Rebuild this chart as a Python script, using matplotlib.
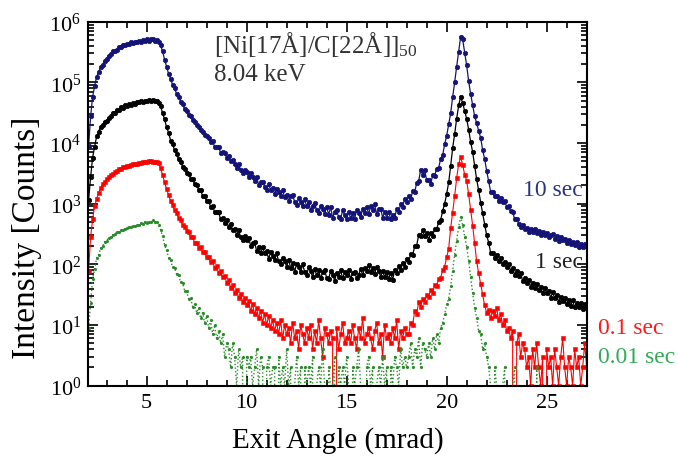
import numpy as np
import matplotlib
matplotlib.use("Agg")
import matplotlib.pyplot as plt
from matplotlib.ticker import MultipleLocator, LogLocator, NullFormatter

plt.rcParams['font.family'] = ['Liberation Serif', 'DejaVu Serif']
plt.rcParams['mathtext.fontset'] = 'custom'
plt.rcParams['mathtext.rm'] = 'Liberation Serif'
plt.rcParams['mathtext.it'] = 'Liberation Serif:italic'

# exit angle grid (mrad), 2.1 ... 27.0 in 0.1 steps
angle = np.round(np.linspace(2.1, 27.0, 250), 1)

# 10 sec, read as log10(counts)
blue_log10 = [
    3.95, 4.44, 4.76, 4.94, 5.09, 5.17, 5.25, 5.29, 5.36, 5.39,
    5.44, 5.46, 5.51, 5.52, 5.54, 5.58, 5.58, 5.61, 5.61, 5.64,
    5.63, 5.66, 5.65, 5.67, 5.66, 5.69, 5.67, 5.70, 5.68, 5.71,
    5.69, 5.71, 5.71, 5.69, 5.70, 5.67, 5.61, 5.51, 5.37, 5.26,
    5.14, 5.06, 4.96, 4.90, 4.81, 4.76, 4.68, 4.64, 4.56, 4.53,
    4.47, 4.44, 4.38, 4.35, 4.29, 4.27, 4.21, 4.19, 4.13, 4.11,
    4.09, 4.02, 4.03, 3.94, 3.93, 3.93, 3.84, 3.85, 3.83, 3.76,
    3.78, 3.70, 3.72, 3.65, 3.59, 3.65, 3.56, 3.51, 3.55, 3.52,
    3.44, 3.50, 3.44, 3.37, 3.44, 3.31, 3.36, 3.36, 3.28, 3.23,
    3.32, 3.23, 3.26, 3.16, 3.25, 3.19, 3.13, 3.22, 3.11, 3.14,
    3.05, 3.13, 3.15, 3.03, 2.98, 3.09, 3.03, 2.96, 3.07, 2.96,
    3.03, 2.89, 2.97, 3.02, 2.89, 2.84, 2.96, 2.91, 2.83, 2.95,
    2.82, 2.94, 2.77, 2.87, 2.89, 2.78, 2.75, 2.89, 2.81, 2.74,
    2.87, 2.76, 2.84, 2.75, 2.90, 2.84, 2.78, 2.91, 2.84, 2.95,
    2.83, 2.96, 2.89, 2.99, 2.83, 2.91, 2.92, 2.77, 2.87, 2.77,
    2.87, 2.75, 2.82, 2.76, 2.92, 2.86, 2.99, 2.95, 3.08, 3.03,
    3.13, 3.07, 3.21, 3.19, 3.34, 3.37, 3.56, 3.48, 3.55, 3.39,
    3.39, 3.32, 3.47, 3.46, 3.58, 3.59, 3.74, 3.80, 3.98, 4.12,
    4.31, 4.49, 4.76, 5.00, 5.26, 5.50, 5.75, 5.71, 5.49, 5.28,
    5.02, 4.81, 4.63, 4.44, 4.33, 4.20, 4.09, 3.88, 3.74, 3.54,
    3.37, 3.20, 3.20, 3.12, 3.12, 3.05, 3.10, 3.03, 3.04, 2.95,
    2.96, 2.88, 2.86, 2.75, 2.75, 2.67, 2.62, 2.65, 2.58, 2.60,
    2.54, 2.59, 2.54, 2.58, 2.51, 2.55, 2.48, 2.54, 2.48, 2.52,
    2.45, 2.49, 2.50, 2.42, 2.46, 2.39, 2.45, 2.40, 2.42, 2.35,
    2.40, 2.33, 2.37, 2.32, 2.37, 2.29, 2.33, 2.29, 2.33, 2.28,
]

# 1 sec, read as log10(counts)
black_log10 = [
    3.06, 3.44, 3.76, 3.94, 4.11, 4.19, 4.27, 4.30, 4.35, 4.37,
    4.42, 4.44, 4.49, 4.50, 4.54, 4.55, 4.59, 4.58, 4.62, 4.61,
    4.64, 4.63, 4.66, 4.65, 4.68, 4.67, 4.69, 4.68, 4.70, 4.69,
    4.71, 4.70, 4.71, 4.69, 4.69, 4.66, 4.61, 4.49, 4.39, 4.26,
    4.17, 4.04, 3.98, 3.88, 3.82, 3.73, 3.69, 3.61, 3.58, 3.51,
    3.49, 3.41, 3.40, 3.32, 3.31, 3.23, 3.22, 3.13, 3.12, 3.04,
    3.04, 2.95, 2.97, 2.86, 2.87, 2.86, 2.74, 2.77, 2.69, 2.73,
    2.61, 2.67, 2.57, 2.59, 2.48, 2.56, 2.45, 2.40, 2.47, 2.41,
    2.44, 2.31, 2.36, 2.37, 2.22, 2.28, 2.19, 2.28, 2.18, 2.22,
    2.09, 2.20, 2.14, 2.07, 2.18, 2.05, 2.00, 2.11, 2.06, 1.96,
    2.08, 1.94, 2.02, 1.88, 2.01, 1.96, 1.87, 2.00, 1.88, 1.83,
    1.95, 1.89, 1.79, 1.93, 1.82, 1.90, 1.77, 1.87, 1.91, 1.78,
    1.76, 1.89, 1.83, 1.73, 1.86, 1.79, 1.90, 1.77, 1.87, 1.82,
    1.90, 1.76, 1.86, 1.88, 1.77, 1.82, 1.93, 1.82, 1.94, 1.89,
    1.99, 1.87, 1.94, 1.84, 1.96, 1.89, 1.80, 1.89, 1.79, 1.88,
    1.76, 1.86, 1.75, 1.90, 1.85, 1.97, 1.90, 2.03, 1.96, 2.09,
    2.04, 2.17, 2.15, 2.30, 2.31, 2.48, 2.47, 2.56, 2.46, 2.51,
    2.41, 2.51, 2.47, 2.59, 2.58, 2.70, 2.73, 2.88, 3.00, 3.16,
    3.35, 3.62, 3.92, 4.15, 4.40, 4.62, 4.76, 4.66, 4.53, 4.40,
    4.22, 4.02, 3.85, 3.62, 3.40, 3.22, 3.02, 2.84, 2.65, 2.48,
    2.36, 2.19, 2.19, 2.11, 2.16, 2.06, 2.11, 2.00, 2.04, 1.96,
    2.01, 1.89, 1.94, 1.83, 1.89, 1.81, 1.85, 1.73, 1.78, 1.69,
    1.75, 1.63, 1.70, 1.61, 1.68, 1.57, 1.62, 1.52, 1.61, 1.52,
    1.56, 1.45, 1.54, 1.44, 1.50, 1.38, 1.46, 1.39, 1.45, 1.34,
    1.42, 1.32, 1.41, 1.29, 1.37, 1.30, 1.37, 1.27, 1.35, 1.28,
]

# 0.1 sec, counts
red_counts = [
    78, 285, 552, 903, 1190, 1524, 1806, 2110, 2322, 2590,
    2731, 2968, 3142, 3335, 3452, 3741, 3779, 4012, 4046, 4190,
    4251, 4398, 4449, 4597, 4553, 4702, 4768, 4815, 4881, 4930,
    4985, 5010, 4912, 4940, 4870, 4660, 3820, 2930, 2260, 1725,
    1395, 1108, 942, 781, 698, 592, 532, 449, 414, 356,
    342, 281, 279, 228, 229, 189, 190, 157, 160, 130,
    134, 108, 112, 88, 93, 72, 77, 61, 64, 50,
    55, 41, 46, 34, 38, 28, 33, 24, 28, 21,
    25, 17, 22, 15, 19, 13, 17, 11, 15, 10,
    14, 9, 12, 8, 11, 7, 12, 6, 10, 7,
    9, 5, 11, 6, 8, 4, 10, 7, 5, 9,
    6, 10, 4, 8, 5, 12, 6, 3, 9, 7,
    5, 8, 6, 0, 9, 4, 7, 11, 5, 6,
    8, 5, 10, 6, 4, 9, 6, 13, 5, 7,
    9, 6, 4, 8, 11, 5, 7, 3, 10, 6,
    7, 5, 9, 6, 12, 4, 8, 6, 9, 7,
    7, 11, 10, 17, 15, 24, 20, 27, 24, 31,
    29, 38, 34, 46, 44, 58, 60, 81, 92, 130,
    182, 392, 712, 1330, 2640, 4510, 5880, 4390, 3010, 2410,
    1420, 790, 437, 225, 112, 72, 48, 32, 21, 16,
    18, 13, 17, 14, 19, 12, 15, 10, 12, 8,
    9, 6, 8, 0, 5, 7, 3, 5, 4, 2,
    3, 1, 4, 2, 5, 2, 1, 3, 0, 4,
    2, 3, 1, 4, 2, 1, 3, 6, 2, 1,
    3, 2, 1, 4, 2, 3, 1, 2, 5, 2,
]

# 0.01 sec, counts
green_counts = [
    9, 23, 58, 84, 126, 143, 185, 199, 236, 244,
    276, 281, 309, 311, 338, 340, 371, 366, 388, 392,
    412, 409, 433, 428, 452, 449, 474, 466, 497, 488,
    509, 498, 531, 506, 492, 451, 372, 289, 208, 171,
    129, 117, 89, 86, 69, 66, 51, 49, 37, 36,
    27, 28, 20, 22, 16, 19, 13, 16, 11, 14,
    9, 12, 7, 10, 6, 8, 5, 7, 3, 5,
    4, 2, 5, 3, 1, 4, 2, 3, 0, 3,
    2, 3, 1, 2, 4, 1, 3, 2, 0, 2,
    3, 1, 2, 2, 0, 3, 1, 2, 1, 4,
    1, 2, 0, 1, 3, 1, 2, 0, 2, 1,
    2, 1, 3, 0, 1, 2, 1, 4, 1, 0,
    2, 1, 1, 3, 0, 2, 1, 2, 1, 3,
    1, 0, 2, 1, 2, 4, 1, 1, 0, 2,
    3, 1, 2, 0, 1, 2, 1, 3, 1, 2,
    0, 2, 1, 3, 2, 1, 4, 2, 3, 2,
    3, 5, 2, 4, 3, 6, 2, 5, 4, 3,
    5, 3, 6, 4, 7, 5, 9, 11, 15, 22,
    27, 44, 78, 145, 247, 421, 604, 442, 287, 196,
    115, 61, 34, 19, 13, 8, 7, 4, 5, 3,
    2, 1, 0, 2, 1, 1, 0, 1, 2, 0,
    1, 0, 1, 2, 0, 1, 0, 1, 1, 0,
    0, 1, 0, 0, 2, 0, 1, 0, 0, 1,
    0, 0, 1, 0, 1, 0, 0, 1, 0, 0,
    1, 0, 0, 1, 0, 0, 1, 0, 0, 0,
]

labels = ['10 sec', '1 sec', '0.1 sec', '0.01 sec']
colors = ['#141478', '#000000', '#ff0000', '#2a8c2a']
label_colors = ['#2a3580', '#222222', '#ff1a1a', '#33aa55']

blue = 10 ** np.array(blue_log10)
black = 10 ** np.array(black_log10)
red = np.array(red_counts, dtype=float)
green = np.array(green_counts, dtype=float)

fig = plt.figure(figsize=(6.78, 4.64), dpi=100)
ax = fig.add_axes([0.1298, 0.1666, 0.7355, 0.7844])

ax.plot(angle, blue, '-o', color=colors[0], ms=3.2, lw=0.9, mew=0.5)
ax.plot(angle, black, '-o', color=colors[1], ms=3.2, lw=0.9, mew=0.5)
ax.plot(angle, red, '-s', color=colors[2], ms=2.8, lw=0.8, mew=0.4)
ax.plot(angle, green, ':', color=colors[3], lw=1.0, marker='.', ms=2.5)

ax.set_yscale('log')
ax.set_xlim(2.07, 27.0)
ax.set_ylim(1, 1e6)
ax.set_xticks([5, 10, 15, 20, 25])
ax.xaxis.set_minor_locator(MultipleLocator(1))
ax.yaxis.set_minor_locator(LogLocator(base=10, subs=np.arange(2, 10)))
ax.yaxis.set_minor_formatter(NullFormatter())
ax.tick_params(which='both', direction='in', top=True, right=True, width=1.2)
ax.tick_params(which='major', length=7, labelsize=16, pad=5)
ax.tick_params(which='minor', length=4)
for s in ax.spines.values():
    s.set_linewidth(1.5)

ax.set_xlabel('Exit Angle (mrad)', fontsize=21)
ax.xaxis.set_label_coords(0.501, -0.11)
ax.set_ylabel('Intensity [Counts]', fontsize=24)
ax.yaxis.set_label_coords(-0.122, 0.41)
ax.yaxis.label.set_va('center')

ax.text(0.253, 0.939, '[Ni[17Å]/C[22Å]]$_{50}$', transform=ax.transAxes,
        fontsize=18, color='#333333', va='center', ha='left')
ax.text(0.253, 0.856, '8.04 keV', transform=ax.transAxes,
        fontsize=18, color='#333333', va='center', ha='left')

ax.text(0.993, 0.540, labels[0], transform=ax.transAxes, fontsize=17,
        color=label_colors[0], ha='right', va='center')
ax.text(0.993, 0.340, labels[1], transform=ax.transAxes, fontsize=17,
        color=label_colors[1], ha='right', va='center')
ax.text(1.022, 0.161, labels[2], transform=ax.transAxes, fontsize=17,
        color=label_colors[2], ha='left', va='center', clip_on=False)
ax.text(1.022, 0.079, labels[3], transform=ax.transAxes, fontsize=17,
        color=label_colors[3], ha='left', va='center', clip_on=False)

fig.savefig('out.png', dpi=100)
